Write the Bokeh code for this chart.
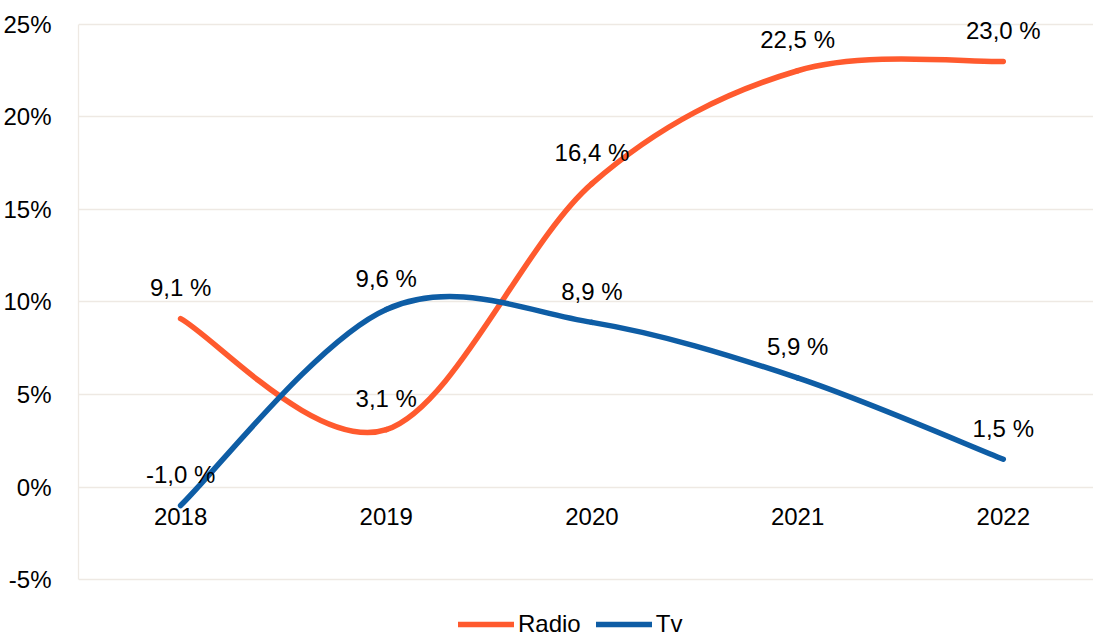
from bokeh.plotting import figure
from bokeh.models import (ColumnDataSource, Range1d, FixedTicker, CustomJSTickFormatter,
                          Legend, LegendItem)
from bokeh.core.properties import value
from bokeh.embed import file_html
from bokeh.resources import INLINE

years = [2018, 2019, 2020, 2021, 2022]
year_labels = ["2018", "2019", "2020", "2021", "2022"]
radio = [9.1, 3.1, 16.4, 22.5, 23.0]
tv = [-1.0, 9.6, 8.9, 5.9, 1.5]
y_ticks = [-5, 0, 5, 10, 15, 20, 25]

RADIO_COLOR = "#FF5A2E"
TV_COLOR = "#0E5DA5"
GRID_COLOR = "#EEE9E3"
FONT = "Liberation Sans"


def bezier_segments(xs, ys):
    """Excel-like smoothed line: Catmull-Rom converted to cubic Bezier segments."""
    n = len(xs)
    d = dict(x0=[], y0=[], x1=[], y1=[], cx0=[], cy0=[], cx1=[], cy1=[])
    for i in range(n - 1):
        xp, yp = (xs[i - 1], ys[i - 1]) if i > 0 else (xs[i], ys[i])
        xn, yn = (xs[i + 2], ys[i + 2]) if i + 2 < n else (xs[i + 1], ys[i + 1])
        d["x0"].append(xs[i]); d["y0"].append(ys[i])
        d["x1"].append(xs[i + 1]); d["y1"].append(ys[i + 1])
        d["cx0"].append(xs[i] + (xs[i + 1] - xp) / 6.0)
        d["cy0"].append(ys[i] + (ys[i + 1] - yp) / 6.0)
        d["cx1"].append(xs[i + 1] - (xn - xs[i]) / 6.0)
        d["cy1"].append(ys[i + 1] - (yn - ys[i]) / 6.0)
    return ColumnDataSource(d)


def fmt(v):
    return f"{v:.1f}".replace(".", ",") + " %"


p = figure(width=1093, height=638, output_backend="svg", toolbar_location=None,
           x_range=Range1d(2017.5036, 2022.4386), y_range=Range1d(-8.189, 26.297),
           min_border_left=69, min_border_right=0, min_border_top=0,
           min_border_bottom=0)
p.outline_line_color = None
p.background_fill_color = "white"
p.border_fill_color = "white"

# grid
p.xgrid.grid_line_color = None
p.ygrid.grid_line_color = GRID_COLOR
p.ygrid.grid_line_width = 1.3
p.ygrid.ticker = FixedTicker(ticks=y_ticks)

# y axis
p.yaxis.ticker = FixedTicker(ticks=y_ticks)
p.yaxis.bounds = (-5, 25)
p.yaxis.formatter = CustomJSTickFormatter(code="return tick.toFixed(0) + '%';")
p.yaxis.axis_line_color = GRID_COLOR
p.yaxis.axis_line_width = 1.3
p.yaxis.major_tick_line_color = None
p.yaxis.minor_tick_line_color = None
p.yaxis.major_label_text_font = FONT
p.yaxis.major_label_text_font_size = "24px"
p.yaxis.major_label_text_color = "#000000"
p.yaxis.major_label_standoff = 21

# category labels sit just under the 0% line (axis crosses at 0)
p.xaxis.visible = False
cat_src = ColumnDataSource(dict(x=years, y=[0] * len(years), t=year_labels))
p.text(x="x", y="y", text="t", source=cat_src, y_offset=29,
       text_align="center", text_baseline="middle",
       text_font=value(FONT), text_font_size="24px", text_color="#000000")

# smoothed lines
r_src = bezier_segments(years, radio)
t_src = bezier_segments(years, tv)
r_radio = p.bezier(x0="x0", y0="y0", x1="x1", y1="y1", cx0="cx0", cy0="cy0",
                   cx1="cx1", cy1="cy1", source=r_src, line_color=RADIO_COLOR,
                   line_width=5.5, line_cap="round", line_join="round")
r_tv = p.bezier(x0="x0", y0="y0", x1="x1", y1="y1", cx0="cx0", cy0="cy0",
                cx1="cx1", cy1="cy1", source=t_src, line_color=TV_COLOR,
                line_width=5.5, line_cap="round", line_join="round")

# data labels
lbl = ColumnDataSource(dict(
    x=years + years,
    y=radio + tv,
    t=[fmt(v) for v in radio] + [fmt(v) for v in tv],
))
p.text(x="x", y="y", text="t", source=lbl, y_offset=-31,
       text_align="center", text_baseline="middle",
       text_font=value(FONT), text_font_size="24px", text_color="#000000")

# legend
legend = Legend(items=[LegendItem(label="Radio", renderers=[r_radio]),
                       LegendItem(label="Tv", renderers=[r_tv])],
                orientation="horizontal", location=(380, 0),
                background_fill_alpha=0, border_line_color=None,
                padding=0, margin=0, spacing=15,
                glyph_width=56, glyph_height=24, label_standoff=4,
                label_text_font=FONT, label_text_font_size="24px",
                label_text_color="#000000", label_height=24)
p.add_layout(legend, "center")

open("out.html", "w").write(file_html(p, INLINE))
